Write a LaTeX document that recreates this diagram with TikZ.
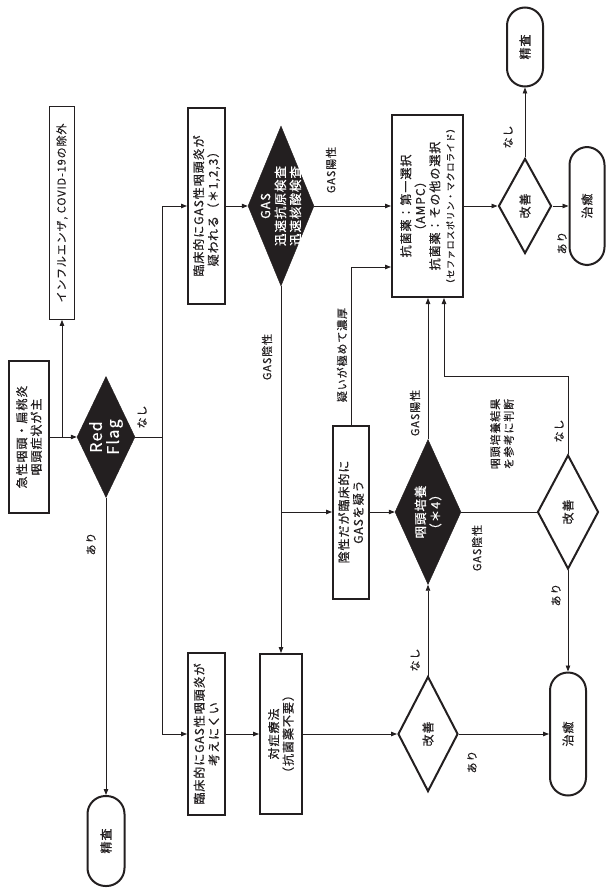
\documentclass[tikz,border=0pt]{standalone}
\usepackage{fontspec}
\setmainfont{Noto Sans CJK JP}[LetterSpace=8, FakeBold=0.6]
\newfontfamily\lblfont{Noto Sans CJK JP}[LetterSpace=8, FakeBold=0.2]
\usetikzlibrary{shapes.geometric,arrows.meta,calc}
\definecolor{cink}{HTML}{231f20}

\begin{document}
\begin{tikzpicture}[x=1pt, y=-1pt,
    every node/.style={rotate=90, align=center, text=cink, font=\fontsize{12}{14.5}\selectfont},
    box/.style={draw=cink, line width=2pt, fill=white, inner sep=1pt},
    note/.style={draw=cink, line width=.8pt, inner sep=1pt},
    term/.style={draw=cink, line width=2pt, rounded corners=18pt},
    dec/.style={diamond, draw=cink, fill=cink, inner sep=0pt},
    dtxt/.style={text=white, font=\fontsize{12.5}{15}\selectfont},
    chk/.style={diamond, draw=cink, line width=2pt, fill=white, inner sep=0pt},
    lbl/.style={font=\lblfont\fontsize{11}{13.5}\selectfont},
    arr/.style={draw=cink, line width=.8pt, -{Triangle[length=6pt, width=4.5pt]}},
    conn/.style={draw=cink, line width=.8pt}]
    \useasboundingbox (0,0) rectangle (605,888);

    % start and red flag
    \node[box, minimum width=152pt, minimum height=40pt] (start) at (29,437) {急性咽頭・扁桃炎\\咽頭症状が主};
    \node[note, minimum width=213pt, minimum height=25pt, font=\lblfont\fontsize{11}{13}\selectfont] (flu) at (62,213) {インフルエンザ, COVID-19の除外};
    \node[dec, minimum width=121pt, minimum height=58pt, label={[dtxt, font=\fontsize{16}{17}\selectfont]center:Red\\Flag}] (redflag) at (106,437) {};
    \node[term, minimum width=90pt, minimum height=37pt] (seisa1) at (106,841) {精査};
    \coordinate (bus) at (162,437);

    % GAS suspected
    \node[box, minimum width=196pt, minimum height=37pt] (gasq) at (206.5,206) {臨床的にGAS性咽頭炎が\\疑われる（＊1,2,3）};
    \node[dec, minimum width=160pt, minimum height=66pt, label={[dtxt]center:GAS\\迅速抗原検査\\迅速核酸検査}] (gastest) at (281,206) {};
    \node[box, minimum width=182pt, minimum height=71pt] (abx) at (427.5,206) {抗菌薬：第一選択\\（AMPC）\\抗菌薬：その他の選択\\{\fontsize{9}{10.5}\selectfont（セファロスポリン・マクロライド）}};
    \node[chk, minimum width=95pt, minimum height=53pt] (kaizen1) at (525,206) {改善};
    \node[term, minimum width=79pt, minimum height=36pt] (seisa2) at (525,47) {精査};
    \node[term, minimum width=118pt, minimum height=35pt] (chiyu1) at (587,206) {治癒};

    % negative but suspected
    \node[box, minimum width=173pt, minimum height=36pt] (nega) at (351,512) {陰性だが臨床的に\\GASを疑う};
    \node[dec, minimum width=145pt, minimum height=66pt, label={[dtxt]center:咽頭培養\\（＊4）}] (culture) at (428,512) {};
    \node[chk, minimum width=114pt, minimum height=61pt] (kaizen2) at (568,512) {改善};

    % GAS unlikely
    \node[box, minimum width=162pt, minimum height=37pt] (gasu) at (206.5,734) {臨床的にGAS性咽頭炎が\\考えにくい};
    \node[box, minimum width=160pt, minimum height=42pt] (taisho) at (281,734) {対症療法\\（抗菌薬不要）};
    \node[chk, minimum width=115pt, minimum height=60pt] (kaizen3) at (428,734) {改善};
    \node[term, minimum width=123pt, minimum height=36pt] (chiyu2) at (568,734) {治癒};

    \draw[arr] (start) -- (redflag);
    \coordinate (split) at (62,437);
    \draw[arr] (split) -- (flu);
    \draw[arr] (redflag) -- (seisa1);
    \draw[conn] (redflag) -- (bus);
    \draw[arr] (bus) |- (gasq);
    \draw[arr] (bus) |- (gasu);
    \draw[arr] (gasq) -- (gastest);
    \draw[arr] (gastest) -- (abx);
    \draw[arr] (abx) -- (kaizen1);
    \draw[arr] (kaizen1) -- (seisa2);
    \draw[arr] (kaizen1) -- (chiyu1);
    \draw[arr] (gastest) -- (taisho);
    \coordinate (negsplit) at (281,512);
    \draw[arr] (negsplit) -- (nega);
    \draw[arr] (nega) |- ($(abx.north)+(0,61)$);
    \draw[arr] (nega) -- (culture);
    \draw[arr] (culture) -- (culture |- abx.west);
    \draw[conn] (culture) -- (kaizen2);
    \coordinate (back) at (444,376);
    \draw[arr] (kaizen2) |- (back) -- (back |- abx.west);
    \draw[arr] (kaizen2) -- (chiyu2);
    \draw[arr] (gasu) -- (taisho);
    \draw[arr] (taisho) -- (kaizen3);
    \draw[arr] (kaizen3) -- (culture);
    \draw[arr] (kaizen3) -- (chiyu2);

    % labels
    \node[lbl] at (142,417) {なし};
    \node[lbl] at (91,544) {あり};
    \node[lbl] at (331,170) {GAS陽性};
    \node[lbl] at (267,357) {GAS陰性};
    \node[lbl] at (342,355) {疑いが極めて濃厚};
    \node[lbl] at (415,413) {GAS陽性};
    \node[lbl] at (477,548) {GAS陰性};
    \node[lbl] at (502,434) {咽頭培養結果\\を参考に判断};
    \node[lbl] at (508,137) {なし};
    \node[lbl] at (562,243) {あり};
    \node[lbl] at (559,431) {なし};
    \node[lbl] at (556,595) {あり};
    \node[lbl] at (415,660) {なし};
    \node[lbl] at (472,762) {あり};
  \end{tikzpicture}
\end{document}
